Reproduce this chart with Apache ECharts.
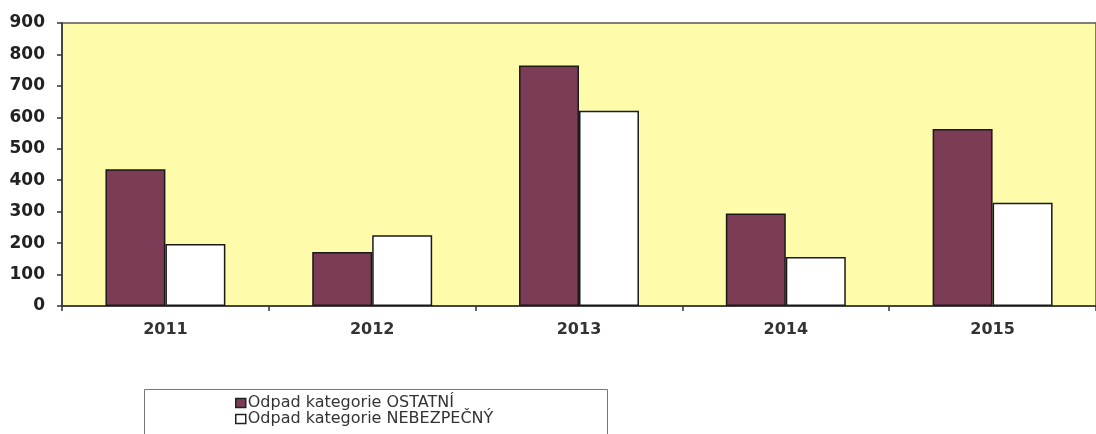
<!DOCTYPE html>
<html>
<head>
<meta charset="utf-8">
<script src="https://cdn.jsdelivr.net/npm/echarts@6/dist/echarts.min.js"></script>
<style>html,body{margin:0;padding:0;background:#fff}#c{width:1096px;height:434px}</style>
</head>
<body>
<div id="c"></div>
<script>
const categories = ['2011', '2012', '2013', '2014', '2015'];
const ostatni = [435, 172, 765, 294, 563];
const nebezpecny = [197, 225, 621, 156, 328];
const seriesNames = ['Odpad kategorie OSTATNÍ', 'Odpad kategorie NEBEZPEČNÝ'];
const yTicks = [0, 100, 200, 300, 400, 500, 600, 700, 800, 900];

const chart = echarts.init(document.getElementById('c'), null, {renderer: 'canvas'});
const font = '"DejaVu Sans", sans-serif';
chart.setOption({
  animation: false,
  graphic: [{
    type: 'rect', shape: {x: 144.5, y: 389.5, width: 463, height: 60},
    style: {fill: '#fff', stroke: '#777', lineWidth: 1}, z: 0
  }],
  legend: {
    orient: 'vertical', left: 235, top: 395, itemWidth: 10, itemHeight: 9, itemGap: 0,
    padding: 0,
    icon: 'rect',
    textStyle: {fontFamily: font, fontSize: 16, lineHeight: 15, color: '#333', padding: [0, 0, 0, -3]},
    data: seriesNames.map(n => ({name: n, itemStyle: {borderColor: '#222', borderWidth: 1.5}}))
  },
  grid: {
    left: 62, top: 23, width: 1043, height: 283,
    show: true, backgroundColor: '#fefcaa', borderColor: '#555', borderWidth: 1.5
  },
  xAxis: {
    type: 'category', data: categories,
    axisLine: {lineStyle: {color: '#333', width: 1.5}},
    axisTick: {show: true, length: 5, lineStyle: {color: '#333', width: 1.5}},
    axisLabel: {fontFamily: font, fontSize: 16, fontWeight: 'bold', color: '#333', margin: 16}
  },
  yAxis: {
    type: 'value', min: yTicks[0], max: yTicks[yTicks.length - 1], interval: 100,
    splitLine: {show: false},
    axisLine: {show: true, lineStyle: {color: '#333', width: 1.5}},
    axisTick: {show: true, length: 5, lineStyle: {color: '#333', width: 1.5}},
    axisLabel: {fontFamily: font, fontSize: 17, fontWeight: 'bold', color: '#222', margin: 17}
  },
  series: [
    {name: seriesNames[0], type: 'bar', data: ostatni, barGap: '0%', barCategoryGap: '42%',
     itemStyle: {color: '#7d3c55', borderColor: '#1a1a1a', borderWidth: 1.5}},
    {name: seriesNames[1], type: 'bar', data: nebezpecny,
     itemStyle: {color: '#ffffff', borderColor: '#1a1a1a', borderWidth: 1.5}}
  ]
});
</script>
</body>
</html>
